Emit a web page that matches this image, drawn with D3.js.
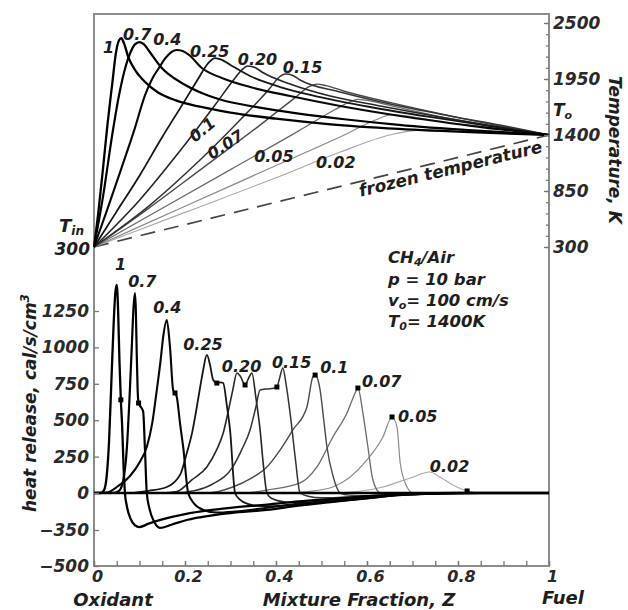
<!DOCTYPE html>
<html>
<head>
<meta charset="utf-8">
<script src="https://cdn.jsdelivr.net/npm/d3@7"></script>
<style>
body{margin:0;background:#fff}
svg text{font-family:"DejaVu Sans",sans-serif;font-weight:bold;font-style:italic;fill:#1e1e1e}
.axis line{stroke:#777;stroke-width:1.3}
.axis text{font-size:17px;fill:#2a2a2a}
</style>
</head>
<body>
<script>

// one label per strain case, in drawing order (darkest first)
const caseLabels = ['1','0.7','0.4','0.25','0.20','0.15','0.1','0.07','0.05','0.02'];

// temperature profiles [Z, T in K]
const T_1 = [[0,300],[0.01,660],[0.02,1080],[0.03,1520],[0.04,1900],[0.048,2200],[0.055,2330],[0.06,2350],[0.066,2300],[0.075,2170],[0.09,2040],[0.11,1930],[0.14,1820],[0.18,1740],[0.23,1680],[0.3,1620],[0.4,1560],[0.52,1505],[0.67,1460],[0.84,1425],[1,1400]];
const T_07 = [[0,300],[0.02,800],[0.04,1400],[0.055,1790],[0.07,2080],[0.08,2210],[0.09,2290],[0.1,2313],[0.11,2290],[0.121,2225],[0.149,2058],[0.193,1911],[0.237,1812],[0.281,1744],[0.35,1680],[0.45,1610],[0.55,1555],[0.67,1500],[0.83,1445],[1,1400]];
const T_04 = [[0,300],[0.03,680],[0.06,1070],[0.09,1470],[0.112,1790],[0.13,1970],[0.143,2060],[0.156,2150],[0.17,2215],[0.182,2235],[0.195,2225],[0.209,2186],[0.237,2058],[0.281,1960],[0.343,1871],[0.431,1783],[0.541,1685],[0.673,1587],[0.83,1490],[1,1400]];
const T_025 = [[0,300],[0.05,650],[0.1,1000],[0.15,1380],[0.2,1740],[0.23,1960],[0.25,2100],[0.266,2156],[0.28,2140],[0.299,2090],[0.343,1979],[0.409,1871],[0.497,1773],[0.607,1675],[0.738,1577],[0.87,1488],[1,1400]];
const T_020 = [[0,300],[0.1,760],[0.19,1250],[0.266,1695],[0.31,1960],[0.325,2040],[0.338,2078],[0.355,2060],[0.369,2019],[0.431,1901],[0.519,1783],[0.629,1685],[0.76,1577],[0.892,1479],[1,1400]];
const T_015 = [[0,300],[0.123,712],[0.233,1154],[0.321,1547],[0.387,1862],[0.405,1960],[0.42,1999],[0.437,1985],[0.453,1940],[0.541,1822],[0.651,1704],[0.782,1587],[0.914,1479],[1,1400]];
const T_01 = [[0,300],[0.12,680],[0.24,1080],[0.36,1480],[0.44,1760],[0.475,1880],[0.49,1900],[0.51,1885],[0.55,1830],[0.65,1720],[0.77,1600],[0.89,1490],[1,1400]];
const T_007 = [[0,300],[0.15,680],[0.3,1060],[0.45,1440],[0.53,1650],[0.565,1730],[0.58,1750],[0.6,1740],[0.65,1690],[0.75,1590],[0.87,1490],[1,1400]];
const T_005 = [[0,300],[0.2,700],[0.4,1100],[0.55,1400],[0.62,1550],[0.655,1600],[0.68,1590],[0.75,1540],[0.87,1470],[1,1400]];
const T_002 = [[0,300],[0.2,640],[0.4,980],[0.54,1230],[0.65,1400],[0.72,1450],[0.78,1460],[0.85,1445],[0.93,1420],[1,1400]];
const frozenTemp = [[0,300],[1,1400]];

// heat release profiles [Z, cal/s/cm3]
const Q_1 = [[0,0],[0.015,0],[0.022,20],[0.028,120],[0.033,350],[0.038,750],[0.043,1150],[0.047,1380],[0.05,1430],[0.053,1250],[0.056,900],[0.059,640],[0.062,450],[0.065,180],[0.068,0],[0.072,-120],[0.08,-240],[0.09,-305],[0.1,-322],[0.12,-290],[0.15,-250],[0.2,-200],[0.25,-165],[0.3,-140],[0.38,-110],[0.45,-80],[0.525,-55],[0.6,-30],[0.7,-10],[0.8,0],[1,0]];
const Q_07 = [[0,0],[0.04,0],[0.055,15],[0.065,100],[0.072,300],[0.078,650],[0.083,1000],[0.087,1280],[0.09,1373],[0.092,1250],[0.094,950],[0.096,700],[0.098,618],[0.103,590],[0.108,560],[0.112,300],[0.116,0],[0.122,-150],[0.132,-270],[0.145,-330],[0.17,-300],[0.2,-260],[0.233,-230],[0.3,-190],[0.38,-160],[0.45,-120],[0.525,-85],[0.6,-50],[0.67,-20],[0.75,-5],[0.85,0],[1,0]];
const Q_04 = [[0,0],[0.03,5],[0.05,41],[0.08,120],[0.1,210],[0.116,316],[0.128,480],[0.138,707],[0.146,900],[0.152,1071],[0.16,1188],[0.167,1003],[0.174,707],[0.178,687],[0.182,660],[0.189,480],[0.196,316],[0.207,0],[0.22,-100],[0.24,-160],[0.27,-185],[0.31,-175],[0.38,-140],[0.45,-100],[0.525,-70],[0.6,-40],[0.67,-15],[0.75,-3],[0.85,0],[1,0]];
const Q_025 = [[0,0],[0.08,0],[0.12,15],[0.16,41],[0.19,130],[0.204,275],[0.216,420],[0.226,591],[0.234,740],[0.24,845],[0.248,948],[0.255,880],[0.262,776],[0.27,755],[0.278,760],[0.284,755],[0.292,600],[0.299,433],[0.31,0],[0.32,-60],[0.34,-105],[0.37,-125],[0.42,-120],[0.5,-90],[0.6,-50],[0.67,-20],[0.75,-5],[0.85,0],[1,0]];
const Q_020 = [[0,0],[0.15,0],[0.182,10],[0.215,90],[0.248,179],[0.27,300],[0.284,412],[0.295,560],[0.305,707],[0.314,824],[0.322,800],[0.332,742],[0.34,790],[0.347,824],[0.356,650],[0.365,433],[0.372,200],[0.38,0],[0.39,-50],[0.42,-85],[0.47,-95],[0.525,-80],[0.6,-45],[0.67,-18],[0.75,-4],[0.85,0],[1,0]];
const Q_015 = [[0,0],[0.18,0],[0.22,15],[0.26,60],[0.305,179],[0.325,300],[0.343,433],[0.355,580],[0.365,707],[0.38,715],[0.395,720],[0.402,728],[0.408,790],[0.415,858],[0.422,750],[0.431,549],[0.442,250],[0.453,0],[0.47,-30],[0.5,-45],[0.58,-35],[0.67,-15],[0.75,-3],[0.85,0],[1,0]];
const Q_01 = [[0,0],[0.25,0],[0.305,41],[0.345,100],[0.38,179],[0.41,300],[0.437,433],[0.468,591],[0.481,797],[0.486,810],[0.497,707],[0.505,500],[0.512,316],[0.525,120],[0.541,0],[0.56,-20],[0.6,-25],[0.67,-12],[0.75,-3],[0.8,0],[1,0]];
const Q_007 = [[0,0],[0.33,0],[0.38,20],[0.453,69],[0.49,179],[0.525,385],[0.556,549],[0.574,687],[0.58,721],[0.591,549],[0.602,316],[0.613,89],[0.629,0],[0.65,-12],[0.7,-8],[0.78,0],[1,0]];
const Q_005 = [[0,0],[0.42,0],[0.47,10],[0.525,41],[0.6,227],[0.635,385],[0.655,522],[0.666,453],[0.673,206],[0.688,41],[0.701,0],[0.72,-4],[0.78,0],[1,0]];
const Q_002 = [[0,0],[0.52,0],[0.58,10],[0.635,41],[0.695,103],[0.738,144],[0.76,110],[0.789,55],[0.82,14],[0.85,0],[1,0]];

// dots on the heat release curves
const heatMarks = [[0.059,640],[0.098,618],[0.178,687],[0.27,755],[0.332,742],[0.402,728],[0.486,810],[0.58,721],[0.655,522],[0.82,14]];

// where each case label sits, in data units
const tempLabelAt = [[0.02,2205],[0.064,2333],[0.13,2284],[0.211,2166],[0.316,2087],[0.415,2009],[0.222,1321],[0.259,1154],[0.352,1135],[0.488,1076]];
const tempLabelTilt = [0,0,0,0,0,0,-40,-33,0,0];
const heatLabelAt = [[0.046,1532],[0.075,1415],[0.13,1236],[0.196,982],[0.281,831],[0.391,859],[0.497,824],[0.589,728],[0.668,488],[0.738,144]];

// ticks
const zTicks = [0,0.2,0.4,0.6,0.8,1];
const zMinorTicks = d3.range(0,21).map(i => i*0.05);
const tempTicks = [300,850,1400,1950,2500];
const tempMinorTicks = d3.range(0,21).map(i => 300 + i*110);
const heatTicks = [-500,-350,0,250,500,750,1000,1250];

const tempSeries = [T_1,T_07,T_04,T_025,T_020,T_015,T_01,T_007,T_005,T_002];
const heatSeries = [Q_1,Q_07,Q_04,Q_025,Q_020,Q_015,Q_01,Q_007,Q_005,Q_002];

const inks = ['#000','#000','#080808','#161616','#262626','#333','#4a4a4a','#6a6a6a','#8a8a8a','#a8a8a8'];
const weights = [2.3,2.2,2.1,1.8,1.6,1.5,1.4,1.3,1.2,1.1];

const W = 628, H = 610;
const frame = {top:14, right:549, bottom:566, left:94};

const svg = d3.select('body')
.append('svg')
.attr('width', W)
.attr('height', H)

const xZ = d3.scaleLinear()
.domain([0,1])
.range([frame.left, frame.right])

const yT = d3.scaleLinear()
.domain([300,2500])
.range([247,23])

// the printed heat release axis is not uniform below zero
const yQ = d3.scaleLinear()
.domain([-500,-350,0,1250])
.range([frame.bottom,530,493,311])

const tLine = d3.line()
.x(d => xZ(d[0]))
.y(d => yT(d[1]))
.curve(d3.curveMonotoneX)

const qLine = d3.line()
.x(d => xZ(d[0]))
.y(d => yQ(d[1]))
.curve(d3.curveMonotoneX)

// frame
svg.append('rect')
.attr('x', frame.left)
.attr('y', frame.top)
.attr('width', frame.right - frame.left)
.attr('height', frame.bottom - frame.top)
.attr('fill', 'none')
.attr('stroke', '#8c8c8c')
.attr('stroke-width', 2)

// ---- heat release panel
const order = d3.range(caseLabels.length).reverse();

svg.append('g')
.selectAll('path')
.data(order)
.enter()
.append('path')
.attr('d', i => qLine(heatSeries[i]))
.attr('fill', 'none')
.attr('stroke', i => inks[i])
.attr('stroke-width', i => weights[i])
.attr('stroke-linejoin', 'round')

svg.append('line')
.attr('x1', xZ(0))
.attr('x2', xZ(1))
.attr('y1', yQ(0))
.attr('y2', yQ(0))
.attr('stroke', '#000')
.attr('stroke-width', 2.4)

svg.append('g')
.selectAll('rect')
.data(heatMarks)
.enter()
.append('rect')
.attr('x', d => xZ(d[0]) - 2.5)
.attr('y', d => yQ(d[1]) - 2.5)
.attr('width', 5)
.attr('height', 5)
.attr('fill', '#000')

svg.append('g')
.selectAll('text')
.data(heatLabelAt)
.enter()
.append('text')
.attr('x', d => xZ(d[0]))
.attr('y', d => yQ(d[1]))
.style('font-size', '16px')
.text((d,i) => caseLabels[i])

// ---- temperature panel
svg.append('path')
.attr('d', tLine(frozenTemp))
.attr('fill', 'none')
.attr('stroke', '#444')
.attr('stroke-width', 1.7)
.attr('stroke-dasharray', '15,9')

svg.append('g')
.selectAll('path')
.data(order)
.enter()
.append('path')
.attr('d', i => tLine(tempSeries[i]))
.attr('fill', 'none')
.attr('stroke', i => inks[i])
.attr('stroke-width', i => weights[i])
.attr('stroke-linejoin', 'round')

svg.append('g')
.selectAll('text')
.data(tempLabelAt)
.enter()
.append('text')
.attr('transform', (d,i) => `translate(${xZ(d[0])},${yT(d[1])}) rotate(${tempLabelTilt[i]})`)
.style('font-size', '16px')
.text((d,i) => caseLabels[i])

const frozenAngle = Math.atan2(yT(1400) - yT(300), xZ(1) - xZ(0)) * 180 / Math.PI;
const fz = 0.578;

svg.append('text')
.attr('transform', `translate(${xZ(fz)},${yT(300 + fz*1100)}) rotate(${frozenAngle})`)
.attr('dy', 15)
.style('font-size', '17px')
.text('frozen temperature')

// ---- axes
const plain = d3.format('d');

svg.append('g')
.attr('class', 'axis')
.attr('transform', `translate(0,${frame.bottom})`)
.call(d3.axisBottom(xZ).tickValues(zMinorTicks).tickSizeInner(-5).tickSizeOuter(0).tickFormat(''))

const xAxis = svg.append('g')
.attr('class', 'axis')
.attr('transform', `translate(0,${frame.bottom})`)
.call(
	d3.axisBottom(xZ)
	.tickValues(zTicks)
	.tickSizeInner(-5)
	.tickSizeOuter(0)
	.tickPadding(5)
	.tickFormat(d => d === 0 || d === 1 ? d : d.toFixed(1))
)

xAxis.selectAll('text').attr('dx', 3).style('font-size', '16px')

svg.append('g')
.attr('class', 'axis')
.attr('transform', `translate(${frame.left},0)`)
.call(d3.axisLeft(yQ).tickValues(heatTicks).tickSizeInner(-5).tickSizeOuter(0).tickPadding(5).tickFormat(plain))

svg.append('g')
.attr('class', 'axis')
.attr('transform', `translate(${frame.right},0)`)
.call(d3.axisRight(yT).tickValues(tempMinorTicks).tickSizeInner(-3).tickSizeOuter(0).tickFormat(''))

svg.append('g')
.attr('class', 'axis')
.attr('transform', `translate(${frame.right},0)`)
.call(d3.axisRight(yT).tickValues(tempTicks).tickSizeInner(-5).tickSizeOuter(0).tickPadding(4).tickFormat(plain))

svg.selectAll('.domain').remove();

// left end temperature
svg.append('text')
.attr('x', frame.left - 4)
.attr('y', yT(300))
.attr('dy', '0.45em')
.attr('text-anchor', 'end')
.style('font-size', '17px')
.text('300')

const tin = svg.append('text')
.attr('x', frame.left - 35)
.attr('y', yT(300) - 15)
.style('font-size', '18px')
.text('T')
tin.append('tspan').attr('dy', 3).style('font-size', '12px').text('in')

const to = svg.append('text')
.attr('x', frame.right + 4)
.attr('y', yT(1400) - 19)
.style('font-size', '17px')
.text('T')
to.append('tspan').attr('dy', 3).style('font-size', '11px').text('o')

// axis titles
const yTitle = svg.append('text')
.attr('transform', `translate(36,403) rotate(-90)`)
.attr('text-anchor', 'middle')
.style('font-size', '17px')
.text('heat release, cal/s/cm')
yTitle.append('tspan').attr('dy', -7).style('font-size', '12px').text('3')

svg.append('text')
.attr('transform', `translate(609,150) rotate(90)`)
.attr('text-anchor', 'middle')
.style('font-size', '17px')
.text('Temperature, K')

svg.append('text')
.attr('x', 113)
.attr('y', 606)
.attr('text-anchor', 'middle')
.style('font-size', '18px')
.text('Oxidant')

svg.append('text')
.attr('x', 359)
.attr('y', 606)
.attr('text-anchor', 'middle')
.style('font-size', '18px')
.text('Mixture Fraction, Z')

svg.append('text')
.attr('x', 563)
.attr('y', 604)
.attr('text-anchor', 'middle')
.style('font-size', '18px')
.text('Fuel')

// conditions block
const cond = svg.append('g')
.attr('transform', 'translate(388,0)')
.style('font-size', '16.5px')

const l1 = cond.append('text').attr('y', 263).text('CH')
l1.append('tspan').attr('dy', 3).style('font-size', '11px').text('4')
l1.append('tspan').attr('dy', -3).text('/Air')

cond.append('text').attr('y', 285).text('p = 10 bar')

const l3 = cond.append('text').attr('y', 306).text('v')
l3.append('tspan').attr('dy', 3).style('font-size', '11px').text('o')
l3.append('tspan').attr('dy', -3).text('= 100 cm/s')

const l4 = cond.append('text').attr('y', 327).text('T')
l4.append('tspan').attr('dy', 3).style('font-size', '11px').text('0')
l4.append('tspan').attr('dy', -3).text('= 1400K')

</script>
</body>
</html>
